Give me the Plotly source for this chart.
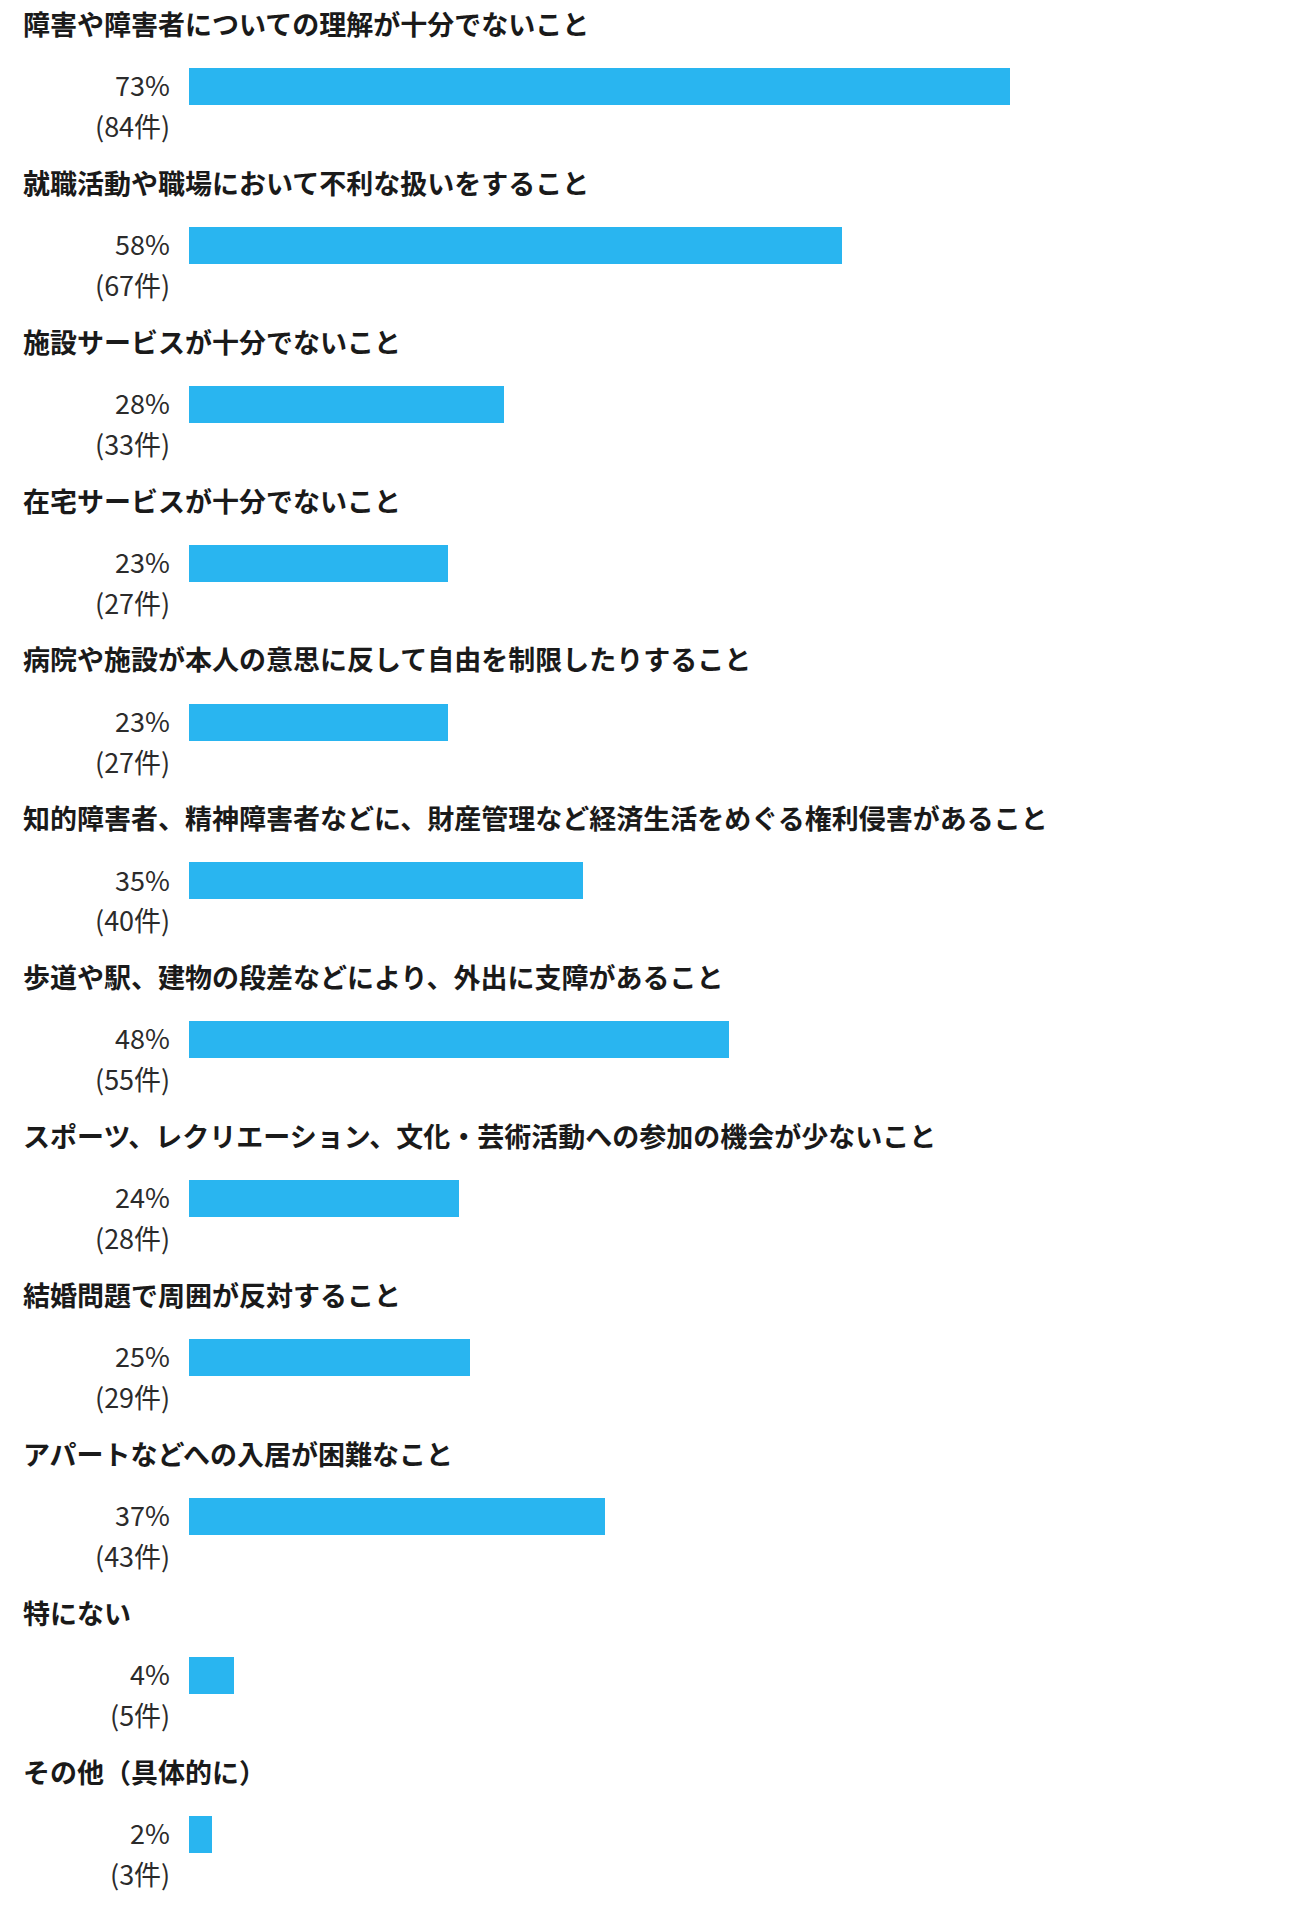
import plotly.graph_objects as go

# 回答項目
categories = [
    "障害や障害者についての理解が十分でないこと",
    "就職活動や職場において不利な扱いをすること",
    "施設サービスが十分でないこと",
    "在宅サービスが十分でないこと",
    "病院や施設が本人の意思に反して自由を制限したりすること",
    "知的障害者、精神障害者などに、財産管理など経済生活をめぐる権利侵害があること",
    "歩道や駅、建物の段差などにより、外出に支障があること",
    "スポーツ、レクリエーション、文化・芸術活動への参加の機会が少ないこと",
    "結婚問題で周囲が反対すること",
    "アパートなどへの入居が困難なこと",
    "特にない",
    "その他（具体的に）",
]
percents = [73, 58, 28, 23, 23, 35, 48, 24, 25, 37, 4, 2]
counts = [84, 67, 33, 27, 27, 40, 55, 28, 29, 43, 5, 3]

BAR_COLOR = "#29b5f0"
FONT = "Noto Sans CJK JP"
idx = list(range(len(categories)))

fig = go.Figure()
fig.add_trace(go.Bar(
    x=percents, y=idx, orientation="h",
    marker=dict(color=BAR_COLOR, line=dict(width=0)),
    width=0.233, hoverinfo="skip",
))

# 項目名・割合・件数
for i, (cat, p, c) in enumerate(zip(categories, percents, counts)):
    fig.add_annotation(x=-0.1493, y=i - 0.397, xref="paper", yref="y", text=f"<b>{cat}</b>",
                       showarrow=False, xanchor="left", yanchor="middle",
                       font=dict(family=FONT, size=27, color="#1a1a1a"))
    fig.add_annotation(x=-0.0155, y=i - 0.012, xref="paper", yref="y", text=f"{p}%",
                       showarrow=False, xanchor="right", yanchor="middle",
                       font=dict(family=FONT, size=27, color="#2b2b2b"))
    fig.add_annotation(x=-0.0155, y=i + 0.245, xref="paper", yref="y", text=f"({c}件)",
                       showarrow=False, xanchor="right", yanchor="middle",
                       font=dict(family=FONT, size=27, color="#2b2b2b"))

fig.update_xaxes(range=[0, 100], visible=False, fixedrange=True)
fig.update_yaxes(range=[11.526, -0.544], visible=False, fixedrange=True)
fig.update_layout(
    width=1316, height=1918,
    margin=dict(l=189, r=2, t=0, b=0),
    plot_bgcolor="white", paper_bgcolor="white",
    showlegend=False, bargap=0,
)
fig.write_html("out.html", config={"displayModeBar": False},
               post_script="document.body.style.margin='0px';")
